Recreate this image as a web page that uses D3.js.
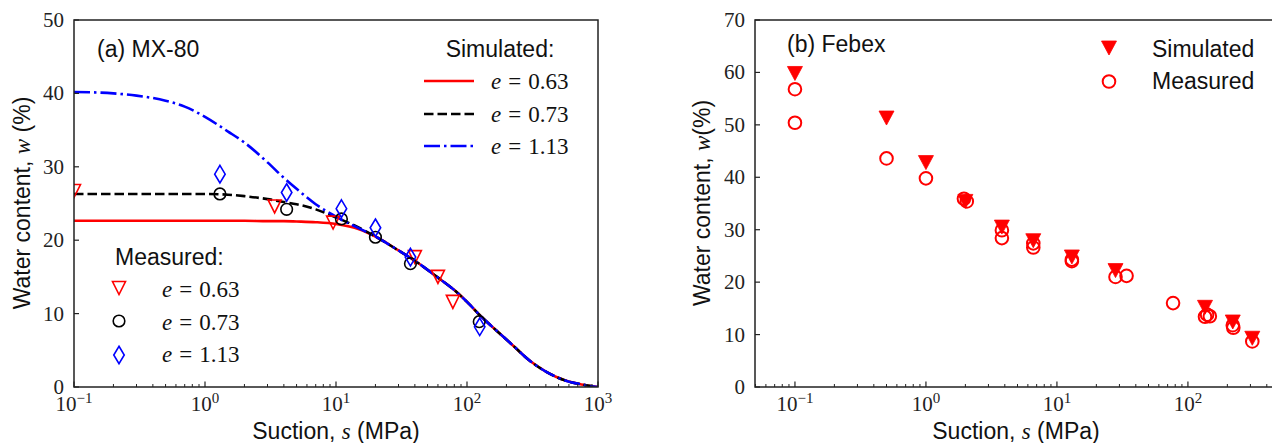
<!DOCTYPE html>
<html><head><meta charset="utf-8">
<script src="https://cdn.jsdelivr.net/npm/d3@7"></script>
<style>body{margin:0;background:#fff}svg{display:block}</style>
</head><body>
<svg id="c" width="1272" height="443"></svg>
<script>
// ---------------- DATA ----------------
// Panel (a) MX-80 simulated curves (suction in MPa, water content in %)
const curveSuction = [0.1,0.2,0.3,0.5,0.7,1,1.5,2,3,4,5,7,10,15,20,30,40,60,80,100,130,170,220,300,400,550,750,1000];
const curveE063 = [22.65,22.65,22.65,22.65,22.65,22.65,22.65,22.65,22.6,22.6,22.55,22.45,22.2,21.5,20.5,18.6,17.2,14.9,13.2,11.6,9.5,7.6,5.8,3.6,2.1,0.95,0.35,0.0];
const curveE073 = [26.3,26.3,26.3,26.3,26.3,26.3,26.2,26.0,25.6,25.2,24.9,24.2,23.1,21.7,20.5,18.6,17.2,14.9,13.2,11.6,9.5,7.6,5.8,3.6,2.1,0.95,0.35,0.0];
const curveE113 = [40.2,40.0,39.7,39.0,38.2,36.8,34.8,33.3,30.6,28.5,27.0,24.9,23.2,21.6,20.5,18.6,17.2,14.9,13.2,11.6,9.5,7.6,5.8,3.6,2.1,0.95,0.35,0.0];
// Panel (a) measured
const measE063S = [0.1,3.4,9.5,40,60,78];
const measE063W = [26.7,24.6,22.4,17.7,15.0,11.6];
const measE073S = [1.3,4.2,11,20,37,124];
const measE073W = [26.3,24.2,22.9,20.4,16.8,8.9];
const measE113S = [1.3,4.2,11,20,37,125];
const measE113W = [29.0,26.5,24.3,21.7,17.7,8.2];
// Panel (b) Febex
const febSimS = [0.1,0.5,1,2,3.8,6.6,13,28,135,220,310];
const febSimW = [59.8,51.3,42.8,35.4,30.5,27.9,24.8,22.2,15.2,12.4,9.3];
const febMeasS = [0.1,0.1,0.5,1,1.95,2.05,3.8,3.8,6.6,6.6,13,13,28,34,77,135,140,147,220,222,310];
const febMeasW = [56.8,50.4,43.6,39.8,35.9,35.4,29.9,28.4,27.4,26.6,24.3,24.0,21.0,21.2,16.0,13.4,13.8,13.5,11.8,11.3,8.7];
// ticks
const yTicksA = [0,10,20,30,40,50];
const yTicksB = [0,10,20,30,40,50,60,70];
const xExpA = [-1,0,1,2,3];
const xExpB = [-1,0,1,2];
const legendA = ["0.63","0.73","1.13"];

// ---------------- DRAW ----------------
const SANS = "'Liberation Sans', Arial, Helvetica, sans-serif";
const SERIF = "'Liberation Serif', 'Times New Roman', serif";
const svg = d3.select("#c");
const defs = svg.append("defs");

const xA = d3.scaleLog().domain([0.1,1000]).range([74,598]);
const yA = d3.scaleLinear().domain([0,50]).range([387,20]);
const xB = d3.scaleLog().domain([Math.pow(10,-1.305), Math.pow(10,2.68)]).range([755,1277]);
const yB = d3.scaleLinear().domain([0,70]).range([387,20]);

function clip(id, x, y) {
  defs.append("clipPath").attr("id", id).append("rect")
    .attr("x", x.range()[0]).attr("y", y.range()[1])
    .attr("width", x.range()[1]-x.range()[0]).attr("height", y.range()[0]-y.range()[1]);
}
clip("clipA", xA, yA); clip("clipB", xB, yB);

const triDown = (w,h) => `M${-w/2},${-h/2}L${w/2},${-h/2}L0,${h/2}Z`;
const diamond = (w,h) => `M0,${-h/2}L${w/2},0L0,${h/2}L${-w/2},0Z`;

function axes(g, x, y, yTicks, xExps) {
  const [x0,x1] = x.range(), [yb,yt] = y.range();
  const lo = Math.floor(Math.log10(x.domain()[0])), hi = Math.ceil(Math.log10(x.domain()[1]));
  const minors = [];
  for (let e = lo; e < hi; e++) for (let m = 2; m <= 9; m++) {
    const v = m*Math.pow(10,e);
    if (v >= x.domain()[0] && v <= x.domain()[1]) minors.push(v);
  }
  g.selectAll(".mn").data(minors).enter().append("line")
    .attr("x1", d=>x(d)).attr("x2", d=>x(d)).attr("y1", yb).attr("y2", yb-3)
    .attr("stroke", "#222").attr("stroke-width", 1);
  const majors = xExps.map(e=>Math.pow(10,e));
  g.selectAll(".mj").data(majors).enter().append("line")
    .attr("x1", d=>x(d)).attr("x2", d=>x(d)).attr("y1", yb).attr("y2", yb-5.5)
    .attr("stroke", "#222").attr("stroke-width", 1.2);
  const lab = g.selectAll(".xl").data(xExps).enter().append("text")
    .attr("x", e=>x(Math.pow(10,e))).attr("y", 411)
    .attr("text-anchor", "middle").attr("font-family", SERIF).attr("font-size", 21).attr("fill", "#222");
  lab.append("tspan").text("10");
  lab.append("tspan").attr("dy", -8).attr("font-size", 15).text(e => e < 0 ? "\u2212" + (-e) : String(e));
  g.selectAll(".yt").data(yTicks).enter().append("line")
    .attr("x1", x0).attr("x2", x0+5).attr("y1", d=>y(d)).attr("y2", d=>y(d))
    .attr("stroke", "#222").attr("stroke-width", 1.2);
  g.selectAll(".yl").data(yTicks).enter().append("text")
    .attr("x", x0-10).attr("y", d=>y(d)+7).attr("text-anchor", "end")
    .attr("font-family", SERIF).attr("font-size", 21).attr("fill", "#222").text(d=>d);
  g.append("rect").attr("x", x0).attr("y", yt).attr("width", x1-x0).attr("height", yb-yt)
    .attr("fill", "none").attr("stroke", "#222").attr("stroke-width", 1.5);
}

function axisLabels(g, cx, ylx, wlabel) {
  const t = g.append("text").attr("x", cx).attr("y", 439).attr("text-anchor", "middle")
    .attr("font-family", SANS).attr("font-size", 23).attr("fill", "#111");
  t.append("tspan").text("Suction, ");
  t.append("tspan").attr("font-family", SERIF).attr("font-style", "italic").text("s");
  t.append("tspan").text(" (MPa)");
  const yl = g.append("text").attr("transform", `translate(${ylx},203) rotate(-90)`)
    .attr("text-anchor", "middle").attr("font-family", SANS).attr("font-size", 23).attr("fill", "#111");
  yl.append("tspan").text("Water content, ");
  yl.append("tspan").attr("font-family", SERIF).attr("font-style", "italic").text("w");
  yl.append("tspan").text(wlabel);
}

// ----- Panel A -----
const gA = svg.append("g");
const plotA = gA.append("g").attr("clip-path", "url(#clipA)");
const line = d3.line().x(d=>xA(d[0])).y(d=>yA(d[1])).curve(d3.curveMonotoneX);
const curves = [
  {w: curveE063, color: "#ff0000", dash: null},
  {w: curveE073, color: "#000000", dash: "9.5,4"},
  {w: curveE113, color: "#0000ff", dash: "16,4,2.5,4"}
];
curves.forEach(c => {
  plotA.append("path").datum(curveSuction.map((s,i)=>[s,c.w[i]]))
    .attr("d", line).attr("fill", "none").attr("stroke", c.color).attr("stroke-width", 2.6)
    .attr("stroke-dasharray", c.dash);
});
function pts(g, S, W, x, y) { return g.selectAll(null).data(S.map((s,i)=>[s,W[i]])).enter().append("path")
  .attr("transform", d=>`translate(${x(d[0])},${y(d[1])})`); }
pts(plotA, measE063S, measE063W, xA, yA).attr("d", triDown(13,13)).attr("fill","none").attr("stroke","#ff0000").attr("stroke-width",1.6);
pts(plotA, measE073S, measE073W, xA, yA).attr("d", d3.symbol(d3.symbolCircle, Math.PI*5.8*5.8)()).attr("fill","none").attr("stroke","#000").attr("stroke-width",1.6);
pts(plotA, measE113S, measE113W, xA, yA).attr("d", diamond(10.5,17.5)).attr("fill","none").attr("stroke","#0000ff").attr("stroke-width",1.6);
axes(gA, xA, yA, yTicksA, xExpA);
axisLabels(gA, 336, 30, " (%)");

gA.append("text").attr("x", 97).attr("y", 57).attr("font-family", SANS).attr("font-size", 23).attr("fill","#111").text("(a) MX-80");
gA.append("text").attr("x", 500).attr("y", 57).attr("text-anchor","middle").attr("font-family", SANS).attr("font-size", 23).attr("fill","#111").text("Simulated:");
function eLabel(g, x, y, v) {
  const t = g.append("text").attr("x", x).attr("y", y).attr("font-family", SERIF).attr("font-size", 23).attr("fill","#111");
  t.append("tspan").attr("font-style","italic").text("e");
  t.append("tspan").attr("dx", 7).text("=");
  t.append("tspan").attr("dx", 7).text(v);
}
const legLineY = [81,114,146], legTextY = [89,122,154];
curves.forEach((c,i) => {
  gA.append("line").attr("x1", 424).attr("x2", 474).attr("y1", legLineY[i]).attr("y2", legLineY[i])
    .attr("stroke", c.color).attr("stroke-width", 2.6).attr("stroke-dasharray", c.dash);
  eLabel(gA, 491, legTextY[i], legendA[i]);
});
gA.append("text").attr("x", 115).attr("y", 265).attr("font-family", SANS).attr("font-size", 23).attr("fill","#111").text("Measured:");
const mY = [288,321,355], mT = [297,330,362];
gA.append("path").attr("transform",`translate(119,${mY[0]})`).attr("d", triDown(13,13)).attr("fill","none").attr("stroke","#ff0000").attr("stroke-width",1.6);
gA.append("path").attr("transform",`translate(119,${mY[1]})`).attr("d", d3.symbol(d3.symbolCircle, Math.PI*5.8*5.8)()).attr("fill","none").attr("stroke","#000").attr("stroke-width",1.6);
gA.append("path").attr("transform",`translate(119,${mY[2]})`).attr("d", diamond(10.5,17.5)).attr("fill","none").attr("stroke","#0000ff").attr("stroke-width",1.6);
legendA.forEach((v,i) => eLabel(gA, 162, mT[i], v));

// ----- Panel B -----
const gB = svg.append("g");
const plotB = gB.append("g").attr("clip-path", "url(#clipB)");
pts(plotB, febSimS, febSimW, xB, yB).attr("d", triDown(15,14)).attr("fill","#ff0000").attr("stroke","#ff0000").attr("stroke-width",0.8);
pts(plotB, febMeasS, febMeasW, xB, yB).attr("d", d3.symbol(d3.symbolCircle, Math.PI*6.3*6.3)()).attr("fill","none").attr("stroke","#ff0000").attr("stroke-width",2);
axes(gB, xB, yB, yTicksB, xExpB);
axisLabels(gB, 1016, 710, "(%)");
gB.append("text").attr("x", 787).attr("y", 52).attr("font-family", SANS).attr("font-size", 23).attr("fill","#111").text("(b) Febex");
gB.append("path").attr("transform","translate(1109,48)").attr("d", triDown(15,14)).attr("fill","#ff0000").attr("stroke","#ff0000").attr("stroke-width",0.8);
gB.append("path").attr("transform","translate(1109,81.5)").attr("d", d3.symbol(d3.symbolCircle, Math.PI*6.3*6.3)()).attr("fill","none").attr("stroke","#ff0000").attr("stroke-width",2);
gB.append("text").attr("x", 1152).attr("y", 57).attr("font-family", SANS).attr("font-size", 23).attr("fill","#111").text("Simulated");
gB.append("text").attr("x", 1152).attr("y", 89).attr("font-family", SANS).attr("font-size", 23).attr("fill","#111").text("Measured");
</script>
</body></html>
